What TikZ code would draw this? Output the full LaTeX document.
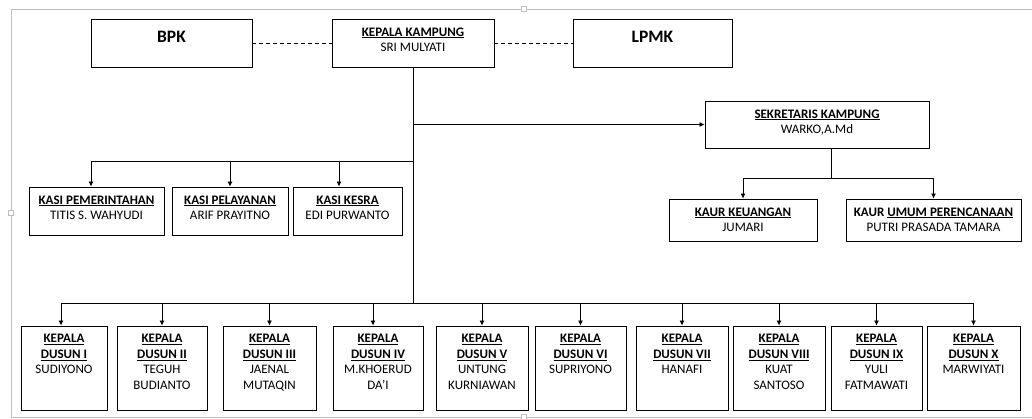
\documentclass[tikz,border=0pt]{standalone}
\usepackage{fontspec}
\setmainfont{Carlito}
\usepackage{tikz}
\usetikzlibrary{arrows.meta}
\usetikzlibrary{positioning}

% fixed size box, text set from the top
\newcommand{\kotak}[4][8.5pt]{\parbox[c][#3][t]{#2}{\centering\vspace*{#1}#4}}

\begin{document}
\begin{tikzpicture}[x=1pt, y=-1pt,
	  orgbox/.style={rectangle,draw,line width=0.9pt,inner sep=0pt,fill=white,font=\fontsize{13}{15.5}\selectfont},
	  link/.style={line width=0.8pt},
	  arr/.style={line width=0.8pt,-{Latex[length=5pt,width=5pt]}},
	  dashlink/.style={line width=0.8pt,dash pattern=on 4pt off 3pt},
	  tboxframe/.style={draw=black!25,line width=0.8pt}]
	  \useasboundingbox (0,0) rectangle (1032,419);
	  \draw[tboxframe] (1032,9) -- (11,9) -- (11,417) -- (1032,417);
	  \draw[tboxframe,fill=white] (521.5,6.5) rectangle (526.5,11.5);
	  \draw[tboxframe,fill=white] (8.5,210.5) rectangle (13.5,215.5);
	  \draw[tboxframe,fill=white] (521.5,414.5) rectangle (526.5,419);
%
	  \node[orgbox] (bpk) at (171.5,43) {\kotak[12.3pt]{161pt}{48pt}{\fontsize{17.5}{20}\selectfont\bfseries BPK}};
	  \node[orgbox] (kades) at (413,43) {\kotak{162pt}{48pt}{\textbf{\underline{KEPALA KAMPUNG}}\\SRI MULYATI}};
	  \node[orgbox] (lpmk) at (652.5,43) {\kotak[12.3pt]{159pt}{48pt}{\fontsize{17.5}{20}\selectfont\bfseries LPMK}};
	  \node[orgbox] (sekdes) at (817,124.5) {\kotak{224pt}{47pt}{\textbf{\underline{SEKRETARIS KAMPUNG}}\\WARKO,A.Md}};
	  \node[orgbox] (keu) at (743,220) {\kotak{148pt}{42pt}{\textbf{\underline{KAUR KEUANGAN}}\\JUMARI}};
	  \node[orgbox] (umum) at (933.5,220) {\kotak{175pt}{42pt}{\textbf{KAUR \underline{UMUM PERENCANAAN}}\\PUTRI PRASADA TAMARA}};
	  \node[orgbox] (pem) at (96.5,211) {\kotak{135pt}{48pt}{\textbf{\underline{KASI PEMERINTAHAN}}\\TITIS S. WAHYUDI}};
	  \node[orgbox] (pel) at (230,211) {\kotak{116pt}{48pt}{\textbf{\underline{KASI PELAYANAN}}\\ARIF PRAYITNO}};
	  \node[orgbox] (kesra) at (347.5,211) {\kotak{109pt}{48pt}{\textbf{\underline{KASI KESRA}}\\EDI PURWANTO}};
	  \node[orgbox] (d1) at (64,368) {\kotak{86pt}{84pt}{\textbf{\underline{KEPALA}}\\\textbf{\underline{DUSUN I}}\\SUDIYONO}};
	  \node[orgbox] (d2) at (162,368) {\kotak{90pt}{84pt}{\textbf{\underline{KEPALA}}\\\textbf{\underline{DUSUN II}}\\TEGUH\\BUDIANTO}};
	  \node[orgbox] (d3) at (269.5,368) {\kotak{93pt}{84pt}{\textbf{\underline{KEPALA}}\\\textbf{\underline{DUSUN III}}\\JAENAL\\MUTAQIN}};
	  \node[orgbox] (d4) at (378,368) {\kotak{90pt}{84pt}{\textbf{\underline{KEPALA}}\\\textbf{\underline{DUSUN IV}}\\M.KHOERUD\\DA’I}};
	  \node[orgbox] (d5) at (482,368) {\kotak{92pt}{84pt}{\textbf{\underline{KEPALA}}\\\textbf{\underline{DUSUN V}}\\UNTUNG\\KURNIAWAN}};
	  \node[orgbox] (d6) at (580.5,368) {\kotak{91pt}{84pt}{\textbf{\underline{KEPALA}}\\\textbf{\underline{DUSUN VI}}\\SUPRIYONO}};
	  \node[orgbox] (d7) at (682,368) {\kotak{92pt}{84pt}{\textbf{\underline{KEPALA}}\\\textbf{\underline{DUSUN VII}}\\HANAFI}};
	  \node[orgbox] (d8) at (779,368) {\kotak{92pt}{84pt}{\textbf{\underline{KEPALA}}\\\textbf{\underline{DUSUN VIII}}\\KUAT\\SANTOSO}};
	  \node[orgbox] (d9) at (876.5,368) {\kotak{91pt}{84pt}{\textbf{\underline{KEPALA}}\\\textbf{\underline{DUSUN IX}}\\YULI\\FATMAWATI}};
	  \node[orgbox] (d10) at (973.5,368) {\kotak{93pt}{84pt}{\textbf{\underline{KEPALA}}\\\textbf{\underline{DUSUN X}}\\MARWIYATI}};
%
	  \coordinate (kasibus) at (413,161);
	  \coordinate (dusbus) at (413,303);
	  \coordinate (kaurbus) at (831,178);
%
	  \draw[dashlink] (bpk) -- (kades);
	  \draw[dashlink] (kades) -- (lpmk);
	  \draw[link] (kades) -- (dusbus);
	  \draw[link] ([xshift=-5.5pt]pem.north |- kasibus) -- (kasibus);
	  \draw[link] ([xshift=-3pt]d1.north |- dusbus) -- (d10 |- dusbus);
	  \draw[link] (sekdes.south -| kaurbus) -- (kaurbus);
	  \draw[link] (keu |- kaurbus) -- (umum |- kaurbus);
	  \path[arr]
	    (kades |- sekdes) edge (sekdes)
	    ([xshift=-5.5pt]pem.north |- kasibus) edge ([xshift=-5.5pt]pem.north)
	    (pel |- kasibus) edge (pel)
	    ([xshift=-8.5pt]kesra.north |- kasibus) edge ([xshift=-8.5pt]kesra.north)
	    (keu |- kaurbus) edge (keu)
	    (umum |- kaurbus) edge (umum)
	    ([xshift=-3pt]d1.north |- dusbus) edge ([xshift=-3pt]d1.north)
	    (d2 |- dusbus) edge (d2)
	    (d3 |- dusbus) edge (d3)
	    ([xshift=-5pt]d4.north |- dusbus) edge ([xshift=-5pt]d4.north)
	    (d5 |- dusbus) edge (d5)
	    (d6 |- dusbus) edge (d6)
	    (d7 |- dusbus) edge (d7)
	    (d8 |- dusbus) edge (d8)
	    (d9 |- dusbus) edge (d9)
	    (d10 |- dusbus) edge (d10);
\end{tikzpicture}
\end{document}
